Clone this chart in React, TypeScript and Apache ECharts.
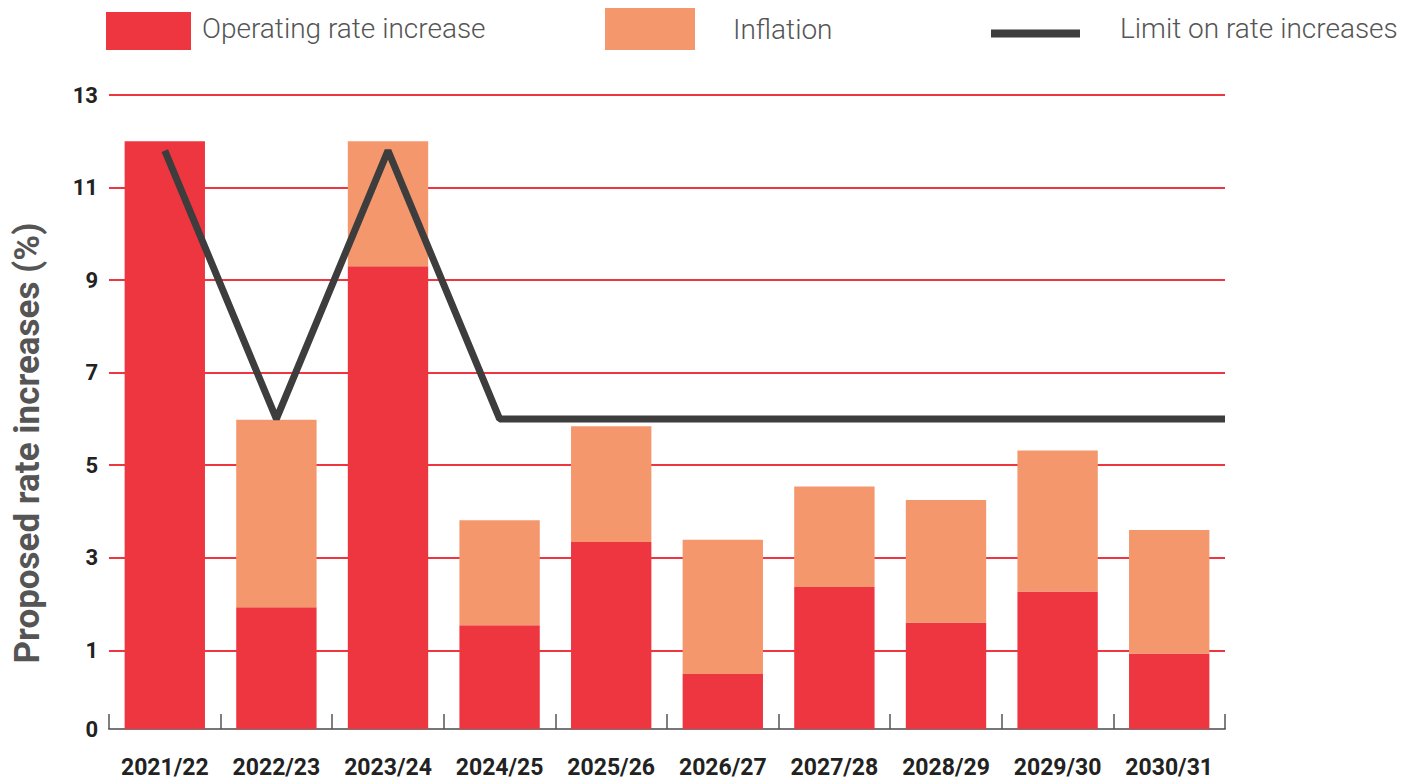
import React, { useEffect, useRef } from "react";
import * as echarts from "echarts";

// Financial years on the x axis
const categories = [
  "2021/22", "2022/23", "2023/24", "2024/25", "2025/26",
  "2026/27", "2027/28", "2028/29", "2029/30", "2030/31",
];

// Percent values per year
const operatingIncrease = [12.0, 1.93, 9.3, 1.54, 3.34, 0.49, 2.37, 1.6, 2.27, 0.93];
const inflation = [0, 4.05, 2.7, 2.27, 2.5, 2.9, 2.17, 2.65, 3.05, 2.67];
const rateLimit = [11.8, 6, 11.8, 6, 6, 6, 6, 6, 6, 6];

// Gridline values and axis range
const yTicks = [1, 3, 5, 7, 9, 11, 13];
const Y_FLOOR = -0.7;
const Y_MAX = 13;

const RED = "#EE3640";
const ORANGE = "#F5976D";
const DARK = "#3D3D3D";
const FONT = "Roboto, 'DejaVu Sans', sans-serif";

// Legend swatches: the leading moveTo reserves empty space above the shape,
// so the swatch sits a little lower than the centre of its label.
const SWATCH_RED = "path://M0,0L0,0M0,6H85V44H0Z";
const SWATCH_LINE = "path://M0,0L0,0M0,11H89V19H0Z";

export default function App() {
  const ref = useRef<HTMLDivElement>(null);

  useEffect(() => {
    if (!ref.current) return;
    const chart = echarts.init(ref.current, null, { renderer: "svg" });

    // Limit line sits on category centres and runs on to the right edge
    const limitPoints: [number, number][] = rateLimit.map((v, i) => [i + 0.5, v]);
    limitPoints.push([categories.length, rateLimit[rateLimit.length - 1]]);

    const legendText = {
      fontSize: 28,
      fontWeight: 300 as any,
      color: "#555",
      fontFamily: FONT,
    };

    chart.setOption({
      animation: false,
      backgroundColor: "#fff",
      grid: {
        left: 109,
        right: 190,
        top: 95,
        bottom: 55,
        containLabel: false,
        outerBoundsMode: "none",
      },
      legend: [
        {
          data: ["Operating rate increase"],
          left: 106,
          top: 6,
          padding: 0,
          icon: SWATCH_RED,
          itemWidth: 85,
          itemHeight: 44,
          selectedMode: false,
          textStyle: { ...legendText, padding: [0, 0, 0, 6] },
        },
        {
          data: ["Inflation"],
          left: 605,
          top: 8,
          padding: 0,
          icon: "rect",
          itemWidth: 90,
          itemHeight: 42,
          selectedMode: false,
          textStyle: { ...legendText, padding: [0, 0, 0, 33] },
        },
        {
          data: ["Limit on rate increases"],
          left: 991,
          top: 14,
          padding: 0,
          icon: SWATCH_LINE,
          itemWidth: 89,
          itemHeight: 19,
          selectedMode: false,
          textStyle: { ...legendText, padding: [0, 0, 0, 35] },
        },
      ],
      xAxis: [
        {
          type: "category",
          data: categories,
          boundaryGap: true,
          axisLine: {
            show: true,
            onZero: false,
            lineStyle: { color: "#777", width: 2 },
          },
          axisTick: {
            show: true,
            inside: true,
            length: 15,
            lineStyle: { color: "#555", width: 1.5 },
          },
          axisLabel: {
            interval: 0,
            color: "#222",
            fontSize: 23,
            fontWeight: "bold",
            fontFamily: FONT,
            margin: 27,
          },
          splitLine: { show: false },
        },
        {
          type: "value",
          min: 0,
          max: categories.length,
          show: false,
        },
      ],
      yAxis: {
        type: "value",
        min: Y_FLOOR,
        max: Y_MAX,
        startValue: Y_FLOOR,
        axisLine: { show: false },
        axisTick: { show: false, customValues: yTicks },
        axisLabel: {
          customValues: [Y_FLOOR, ...yTicks],
          formatter: (v: number) => (v <= Y_FLOOR ? "0" : String(v)),
          color: "#222",
          fontSize: 22,
          fontWeight: "bold",
          fontFamily: FONT,
          margin: 11,
        },
        splitLine: { show: true, lineStyle: { color: RED, width: 2 } },
      },
      graphic: [
        {
          type: "text",
          x: 27,
          y: 443,
          rotation: Math.PI / 2,
          style: {
            text: "Proposed rate increases (%)",
            fontSize: 35,
            fontWeight: "bold",
            fontFamily: FONT,
            fill: "#555",
            textAlign: "center",
            textVerticalAlign: "middle",
          },
        },
      ],
      series: [
        {
          name: "Operating rate increase",
          type: "bar",
          stack: "total",
          data: operatingIncrease,
          barWidth: "72%",
          itemStyle: { color: RED },
          z: 3,
        },
        {
          name: "Inflation",
          type: "bar",
          stack: "total",
          data: inflation,
          barWidth: "72%",
          itemStyle: { color: ORANGE },
          z: 3,
        },
        {
          name: "Limit on rate increases",
          type: "line",
          xAxisIndex: 1,
          data: limitPoints,
          symbol: "none",
          clip: false,
          itemStyle: { color: DARK },
          lineStyle: { color: DARK, width: 7, cap: "butt", join: "bevel" },
          z: 5,
        },
      ],
    });

    return () => chart.dispose();
  }, []);

  return (
    <div
      ref={ref}
      style={{ position: "fixed", left: 0, top: 0, width: 1415, height: 784 }}
    />
  );
}
